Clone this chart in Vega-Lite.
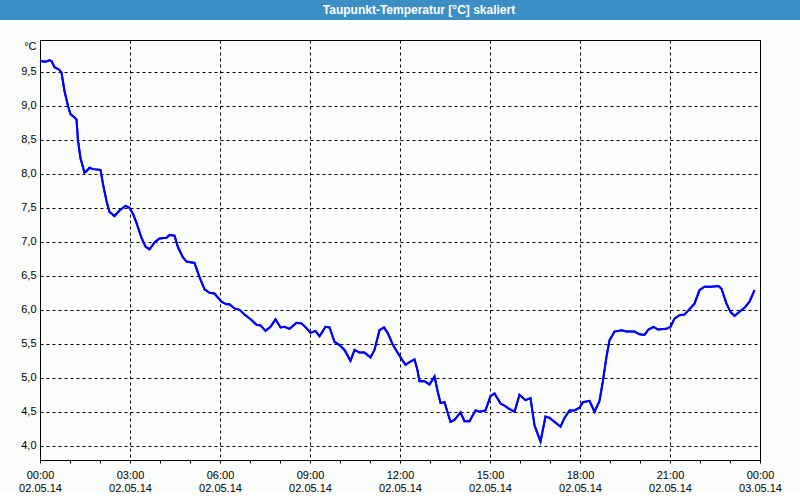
{
  "$schema": "https://vega.github.io/schema/vega-lite/v6.json",
  "background": "#fbfdfb",
  "padding": 0,
  "spacing": 20,
  "bounds": "flush",
  "center": true,
  "config": {
    "font": "Liberation Sans",
    "locale": {"number": {"decimal": ",", "thousands": ".", "grouping": [3], "currency": ["", " €"]}},
    "axis": {"labelFont": "Liberation Sans", "labelFontSize": 11, "labelColor": "#000000", "domainColor": "#000000", "tickColor": "#000000", "gridColor": "#000000", "gridDash": [3, 3], "gridWidth": 1}
  },
  "vconcat": [
    {
      "width": 800,
      "height": 20,
      "view": {"fill": "#3c8fc5", "stroke": null},
      "data": {"values": [{"title": "Taupunkt-Temperatur [°C] skaliert"}]},
      "mark": {"type": "text", "color": "#ffffff", "font": "Liberation Sans", "fontSize": 12, "fontWeight": "bold", "dx": 19, "align": "center", "baseline": "middle"},
      "encoding": {"text": {"field": "title", "type": "nominal"}}
    },
    {
      "width": 720,
      "height": 420,
      "view": {"stroke": "#000000", "strokeWidth": 1},
      "data": {"values": [
        {"m":0,"v":9.66},{"m":11,"v":9.65},{"m":19,"v":9.67},{"m":23,"v":9.66},{"m":29,"v":9.57},{"m":39,"v":9.53},{"m":43,"v":9.49},{"m":49,"v":9.22},
        {"m":56,"v":9.0},{"m":61,"v":8.88},{"m":69,"v":8.83},{"m":73,"v":8.8},{"m":76,"v":8.49},{"m":81,"v":8.23},{"m":89,"v":8.02},{"m":93,"v":8.04},
        {"m":99,"v":8.09},{"m":106,"v":8.07},{"m":121,"v":8.06},{"m":126,"v":7.85},{"m":133,"v":7.6},{"m":139,"v":7.44},{"m":149,"v":7.38},{"m":159,"v":7.46},
        {"m":171,"v":7.53},{"m":179,"v":7.5},{"m":186,"v":7.41},{"m":193,"v":7.28},{"m":203,"v":7.06},{"m":211,"v":6.93},{"m":219,"v":6.89},{"m":229,"v":6.99},
        {"m":239,"v":7.05},{"m":253,"v":7.06},{"m":259,"v":7.1},{"m":269,"v":7.09},{"m":276,"v":6.92},{"m":286,"v":6.77},{"m":293,"v":6.71},{"m":309,"v":6.69},
        {"m":319,"v":6.48},{"m":329,"v":6.3},{"m":339,"v":6.25},{"m":349,"v":6.24},{"m":357,"v":6.17},{"m":363,"v":6.12},{"m":373,"v":6.08},{"m":379,"v":6.08},
        {"m":389,"v":6.02},{"m":399,"v":6.0},{"m":409,"v":5.93},{"m":423,"v":5.85},{"m":433,"v":5.78},{"m":441,"v":5.77},{"m":451,"v":5.69},{"m":461,"v":5.75},
        {"m":471,"v":5.86},{"m":481,"v":5.74},{"m":489,"v":5.75},{"m":499,"v":5.72},{"m":513,"v":5.81},{"m":523,"v":5.8},{"m":533,"v":5.73},{"m":541,"v":5.66},
        {"m":551,"v":5.69},{"m":559,"v":5.61},{"m":571,"v":5.75},{"m":579,"v":5.74},{"m":589,"v":5.53},{"m":599,"v":5.48},{"m":609,"v":5.41},{"m":621,"v":5.25},
        {"m":629,"v":5.41},{"m":639,"v":5.37},{"m":649,"v":5.37},{"m":661,"v":5.3},{"m":669,"v":5.41},{"m":679,"v":5.7},{"m":688,"v":5.74},{"m":696,"v":5.65},
        {"m":706,"v":5.48},{"m":716,"v":5.36},{"m":723,"v":5.28},{"m":731,"v":5.19},{"m":739,"v":5.23},{"m":749,"v":5.27},{"m":755,"v":5.11},{"m":759,"v":4.95},
        {"m":769,"v":4.95},{"m":779,"v":4.9},{"m":789,"v":5.02},{"m":795,"v":4.81},{"m":801,"v":4.63},{"m":809,"v":4.64},{"m":821,"v":4.35},{"m":829,"v":4.38},
        {"m":841,"v":4.49},{"m":849,"v":4.36},{"m":859,"v":4.36},{"m":871,"v":4.52},{"m":879,"v":4.5},{"m":891,"v":4.52},{"m":901,"v":4.73},{"m":909,"v":4.77},
        {"m":921,"v":4.62},{"m":929,"v":4.59},{"m":939,"v":4.54},{"m":949,"v":4.5},{"m":959,"v":4.75},{"m":971,"v":4.67},{"m":981,"v":4.7},{"m":989,"v":4.3},
        {"m":1001,"v":4.06},{"m":1011,"v":4.43},{"m":1019,"v":4.41},{"m":1031,"v":4.34},{"m":1041,"v":4.28},{"m":1049,"v":4.41},{"m":1059,"v":4.52},{"m":1069,"v":4.52},
        {"m":1079,"v":4.56},{"m":1086,"v":4.64},{"m":1099,"v":4.66},{"m":1109,"v":4.5},{"m":1119,"v":4.66},{"m":1126,"v":4.96},{"m":1133,"v":5.31},{"m":1139,"v":5.55},
        {"m":1149,"v":5.68},{"m":1163,"v":5.7},{"m":1173,"v":5.68},{"m":1189,"v":5.68},{"m":1199,"v":5.64},{"m":1209,"v":5.63},{"m":1217,"v":5.71},{"m":1227,"v":5.75},
        {"m":1236,"v":5.71},{"m":1253,"v":5.72},{"m":1261,"v":5.75},{"m":1269,"v":5.87},{"m":1279,"v":5.92},{"m":1289,"v":5.93},{"m":1299,"v":6.01},{"m":1309,"v":6.09},
        {"m":1319,"v":6.29},{"m":1329,"v":6.34},{"m":1343,"v":6.34},{"m":1357,"v":6.35},{"m":1363,"v":6.31},{"m":1373,"v":6.09},{"m":1381,"v":5.97},{"m":1389,"v":5.91},
        {"m":1399,"v":5.97},{"m":1409,"v":6.03},{"m":1419,"v":6.12},{"m":1429,"v":6.29}
      ]},
      "resolve": {"axis": {"x": "independent"}},
      "layer": [
        {
          "mark": {"type": "line", "color": "#0000ff", "strokeWidth": 2},
          "encoding": {
            "x": {
              "field": "m", "type": "quantitative",
              "scale": {"domain": [0, 1440], "nice": false, "zero": false},
              "axis": {
                "orient": "bottom",
                "title": null,
                "values": [0, 180, 360, 540, 720, 900, 1080, 1260, 1440],
                "ticks": false,
                "domain": false,
                "grid": true,
                "labelFlush": false,
                "labelOverlap": false,
                "labelPadding": 22,
                "labelBaseline": "top",
                "labelExpr": "datum.value >= 1440 ? '03.05.14' : '02.05.14'"
              }
            },
            "y": {
              "field": "v", "type": "quantitative",
              "scale": {"domain": [3.79, 9.97], "nice": false, "zero": false},
              "axis": {
                "title": "°C",
                "titleAngle": 0,
                "titleX": -4,
                "titleY": 6,
                "titleAlign": "right",
                "titleBaseline": "middle",
                "titleFont": "Liberation Sans",
                "titleFontSize": 11,
                "titleFontWeight": "normal",
                "titleColor": "#000000",
                "values": [4, 4.5, 5, 5.5, 6, 6.5, 7, 7.5, 8, 8.5, 9, 9.5],
                "format": ".1f",
                "labelOverlap": false,
                "ticks": false,
                "labelPadding": 4,
                "grid": true
              }
            }
          }
        },
        {
          "mark": {"type": "line", "color": "#0000ff", "strokeWidth": 2},
          "encoding": {
            "x": {
              "field": "m", "type": "quantitative",
              "axis": {
                "orient": "bottom",
                "title": null,
                "values": [0, 60, 120, 180, 240, 300, 360, 420, 480, 540, 600, 660, 720, 780, 840, 900, 960, 1020, 1080, 1140, 1200, 1260, 1320, 1380, 1440],
                "tickSize": 3,
                "grid": false,
                "labelFlush": false,
                "labelOverlap": false,
                "labelPadding": 6,
                "labelBaseline": "top",
                "labelExpr": "datum.value % 180 != 0 ? '' : (datum.value >= 1440 ? '00:00' : (datum.value < 600 ? '0' : '') + (datum.value / 60) + ':00')"
              }
            },
            "y": {
              "field": "v", "type": "quantitative",
              "axis": {
                "title": "°C",
                "titleAngle": 0,
                "titleX": -4,
                "titleY": 6,
                "titleAlign": "right",
                "titleBaseline": "middle",
                "titleFont": "Liberation Sans",
                "titleFontSize": 11,
                "titleFontWeight": "normal",
                "titleColor": "#000000",
                "values": [4, 4.5, 5, 5.5, 6, 6.5, 7, 7.5, 8, 8.5, 9, 9.5],
                "format": ".1f",
                "labelOverlap": false,
                "ticks": false,
                "labelPadding": 4,
                "grid": true
              }
            }
          }
        }
      ]
    }
  ]
}
